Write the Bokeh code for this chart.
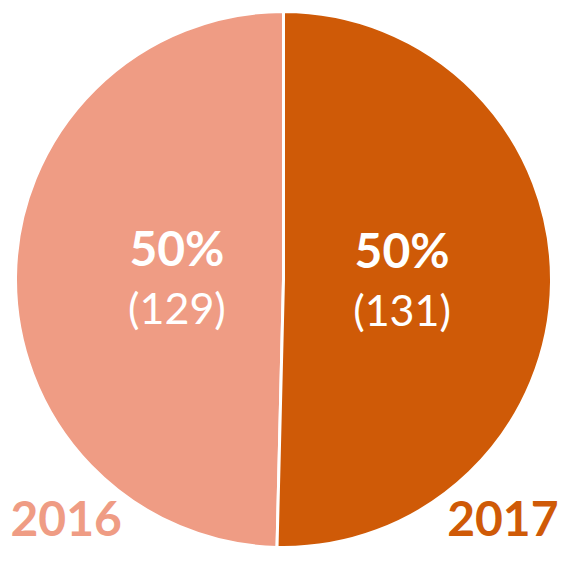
import math
from bokeh.plotting import figure
from bokeh.models import ColumnDataSource, Range1d
from bokeh.core.properties import value
from bokeh.embed import file_html
from bokeh.resources import INLINE

years = ["2016", "2017"]
counts = [129, 131]
colors = ["#EF9C84", "#CF5A07"]

W, H = 561, 550
cx, cy, r = 283.0, 271.0, 268.0

total = sum(counts)
# slices go clockwise from 12 o'clock: 2017 first (right), then 2016 (left)
order = [1, 0]
starts, ends = [0.0] * 2, [0.0] * 2
ang = math.pi / 2
for i in order:
    span = 2 * math.pi * counts[i] / total
    ends[i] = ang
    starts[i] = ang - span
    ang -= span

mid = [(s + e) / 2 for s, e in zip(starts, ends)]
lab_r = 0.42 * r
lx = [cx + lab_r * math.cos(m) for m in mid]
ly = [cy + lab_r * math.sin(m) for m in mid]
pct = [f"{round(100 * c / total)}%" for c in counts]
cnt = [f"({c})" for c in counts]

src = ColumnDataSource(dict(start=starts, end=ends, color=colors, lx=lx, ly=ly,
                            pct=pct, cnt=cnt))

p = figure(width=W, height=H, output_backend="svg", toolbar_location=None,
           x_range=Range1d(0, W), y_range=Range1d(0, H), min_border=0)
p.axis.visible = False
p.grid.visible = False
p.outline_line_color = None
p.background_fill_color = "white"
p.border_fill_color = "white"

p.wedge(x=cx, y=cy, radius=r, start_angle="start", end_angle="end",
        fill_color="color", line_color="white", line_width=3, source=src)

p.text(x="lx", y="ly", text="pct", source=src, text_align="center",
       text_baseline="alphabetic", x_offset=6, y_offset=-31,
       text_font=value("Lato"), text_font_style="bold", text_font_size="48px",
       text_color="white")
p.text(x="lx", y="ly", text="cnt", source=src, text_align="center",
       text_baseline="alphabetic", x_offset=6, y_offset=29,
       text_font=value("Lato"), text_font_size="43px", text_color="white")

p.text(x=[10], y=[32], text=[years[0]], text_align="left", text_baseline="alphabetic",
       text_font=value("Lato"), text_font_style="bold", text_font_size="48px",
       text_color=colors[0])
p.text(x=[W - 3], y=[32], text=[years[1]], text_align="right", text_baseline="alphabetic",
       text_font=value("Lato"), text_font_style="bold", text_font_size="48px",
       text_color=colors[1])

open("out.html", "w").write(file_html(p, INLINE))
